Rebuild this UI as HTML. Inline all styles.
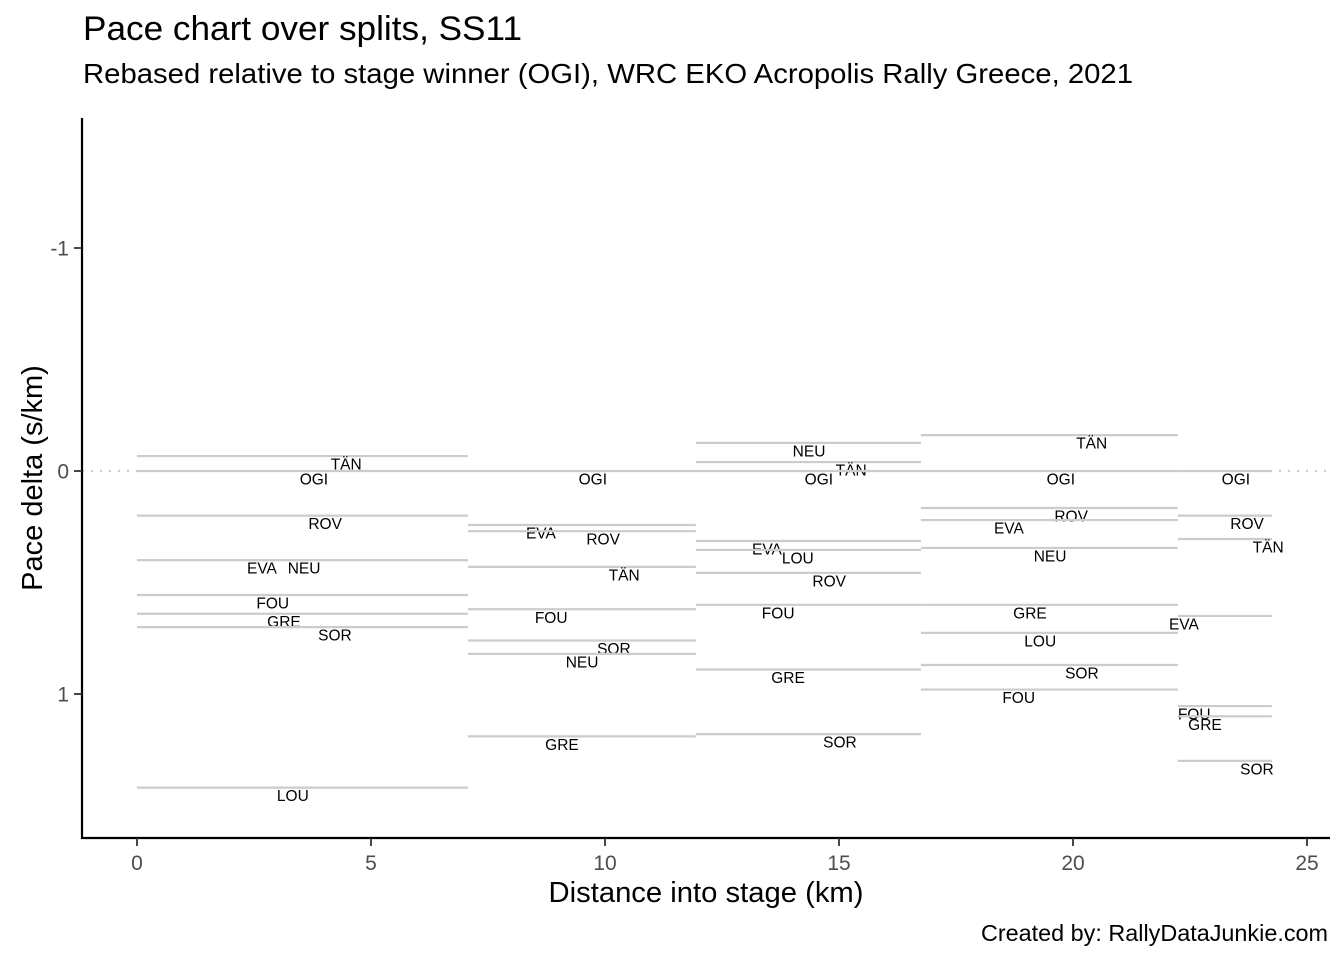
<!DOCTYPE html>
<html><head><meta charset="utf-8"><style>
body{margin:0;background:#fff;}
svg text{font-family:"Liberation Sans","DejaVu Sans",sans-serif;}
</style></head><body>
<svg id="chart" width="1344" height="960" xmlns="http://www.w3.org/2000/svg">
<rect width="1344" height="960" fill="#fff"/>
<text x="83" y="40" font-size="34" textLength="439" lengthAdjust="spacingAndGlyphs" fill="#000">Pace chart over splits, SS11</text>
<text x="83" y="83" font-size="28" textLength="1050" lengthAdjust="spacingAndGlyphs" fill="#000">Rebased relative to stage winner (OGI), WRC EKO Acropolis Rally Greece, 2021</text>
<g id="plot"></g>
<text x="706" y="902" font-size="29" text-anchor="middle" textLength="315" lengthAdjust="spacingAndGlyphs" fill="#000">Distance into stage (km)</text>
<text transform="translate(42,478) rotate(-90)" font-size="29" text-anchor="middle" fill="#000">Pace delta (s/km)</text>
<text x="1328" y="941" font-size="23" text-anchor="end" textLength="347" lengthAdjust="spacingAndGlyphs" fill="#000">Created by: RallyDataJunkie.com</text>
</svg>
<script>
const splitStarts=[0,7.07,11.94,16.75,22.24];
const splitEnds=[7.07,11.94,16.75,22.24,24.25];
const seg0Codes=["TÄN","OGI","ROV","EVA","NEU","FOU","GRE","SOR","LOU"];
const seg0Pace=[-0.067,0,0.2,0.40,0.40,0.556,0.64,0.70,1.42];
const seg0LabelKm=[4.47,3.78,4.02,2.67,3.57,2.9,3.14,4.23,3.33];
const seg1Codes=["OGI","EVA","ROV","TÄN","FOU","SOR","NEU","GRE"];
const seg1Pace=[0,0.242,0.27,0.43,0.62,0.76,0.82,1.19];
const seg1LabelKm=[9.74,8.63,9.96,10.41,8.85,10.19,9.51,9.08];
const seg2Codes=["NEU","TÄN","OGI","EVA","LOU","ROV","FOU","GRE","SOR"];
const seg2Pace=[-0.126,-0.04,0,0.314,0.354,0.457,0.60,0.89,1.18];
const seg2LabelKm=[14.36,15.26,14.57,13.46,14.12,14.79,13.7,13.91,15.02];
const seg3Codes=["TÄN","OGI","ROV","EVA","NEU","GRE","LOU","SOR","FOU"];
const seg3Pace=[-0.161,0,0.166,0.22,0.345,0.60,0.726,0.87,0.98];
const seg3LabelKm=[20.4,19.74,19.96,18.63,19.51,19.08,19.3,20.19,18.84];
const seg4Codes=["OGI","ROV","TÄN","EVA","FOU","GRE","SOR"];
const seg4Pace=[0,0.2,0.305,0.65,1.054,1.10,1.30];
const seg4LabelKm=[23.48,23.72,24.17,22.37,22.59,22.82,23.93];
const segCodes=[seg0Codes,seg1Codes,seg2Codes,seg3Codes,seg4Codes];
const segPace=[seg0Pace,seg1Pace,seg2Pace,seg3Pace,seg4Pace];
const segLabelKm=[seg0LabelKm,seg1LabelKm,seg2LabelKm,seg3LabelKm,seg4LabelKm];
const xTicks=[0,5,10,15,20,25];
const yTicks=[-1,0,1];

const NS="http://www.w3.org/2000/svg";
const X=v=>137+v*46.8;
const Y=v=>471+v*223;
const g=document.getElementById('plot');
function mk(tag,attrs){const e=document.createElementNS(NS,tag);for(const k in attrs)e.setAttribute(k,attrs[k]);g.appendChild(e);return e;}

let z=mk('line',{x1:82,x2:1330,y1:Y(0),y2:Y(0),stroke:'#cccccc','stroke-width':2.2,'stroke-dasharray':'2,7'});



for(let s=0;s<segCodes.length;s++){
  for(let i=0;i<segCodes[s].length;i++){
    const l=mk('line',{x1:X(splitStarts[s]),x2:X(splitEnds[s]),y1:Y(segPace[s][i]),y2:Y(segPace[s][i]),stroke:'#cccccc','stroke-width':2.2});
    
    
    const t=mk('text',{x:X(segLabelKm[s][i]),y:Y(segPace[s][i])+13.5,'font-size':15.5,'text-anchor':'middle',fill:'#000'});
    t.textContent=segCodes[s][i];
    
    
  }
}

let ax=mk('line',{x1:82,x2:82,y1:118,y2:839,stroke:'#000','stroke-width':2.2});


let bx=mk('line',{x1:81,x2:1330,y1:838,y2:838,stroke:'#000','stroke-width':2.2});


for(const v of xTicks){
  const tk=mk('line',{x1:X(v),x2:X(v),y1:838,y2:846,stroke:'#333','stroke-width':1.8});
  
  
  const t=mk('text',{x:X(v),y:870,'font-size':21,'text-anchor':'middle',fill:'#4d4d4d'});
  t.textContent=v;
  
  
}
for(const v of yTicks){
  const tk=mk('line',{x1:74,x2:82,y1:Y(v),y2:Y(v),stroke:'#333','stroke-width':1.8});
  
  
  const t=mk('text',{x:69,y:Y(v)+7.5,'font-size':21,'text-anchor':'end',fill:'#4d4d4d'});
  t.textContent=v;
  
  
}
</script>
</body></html>
